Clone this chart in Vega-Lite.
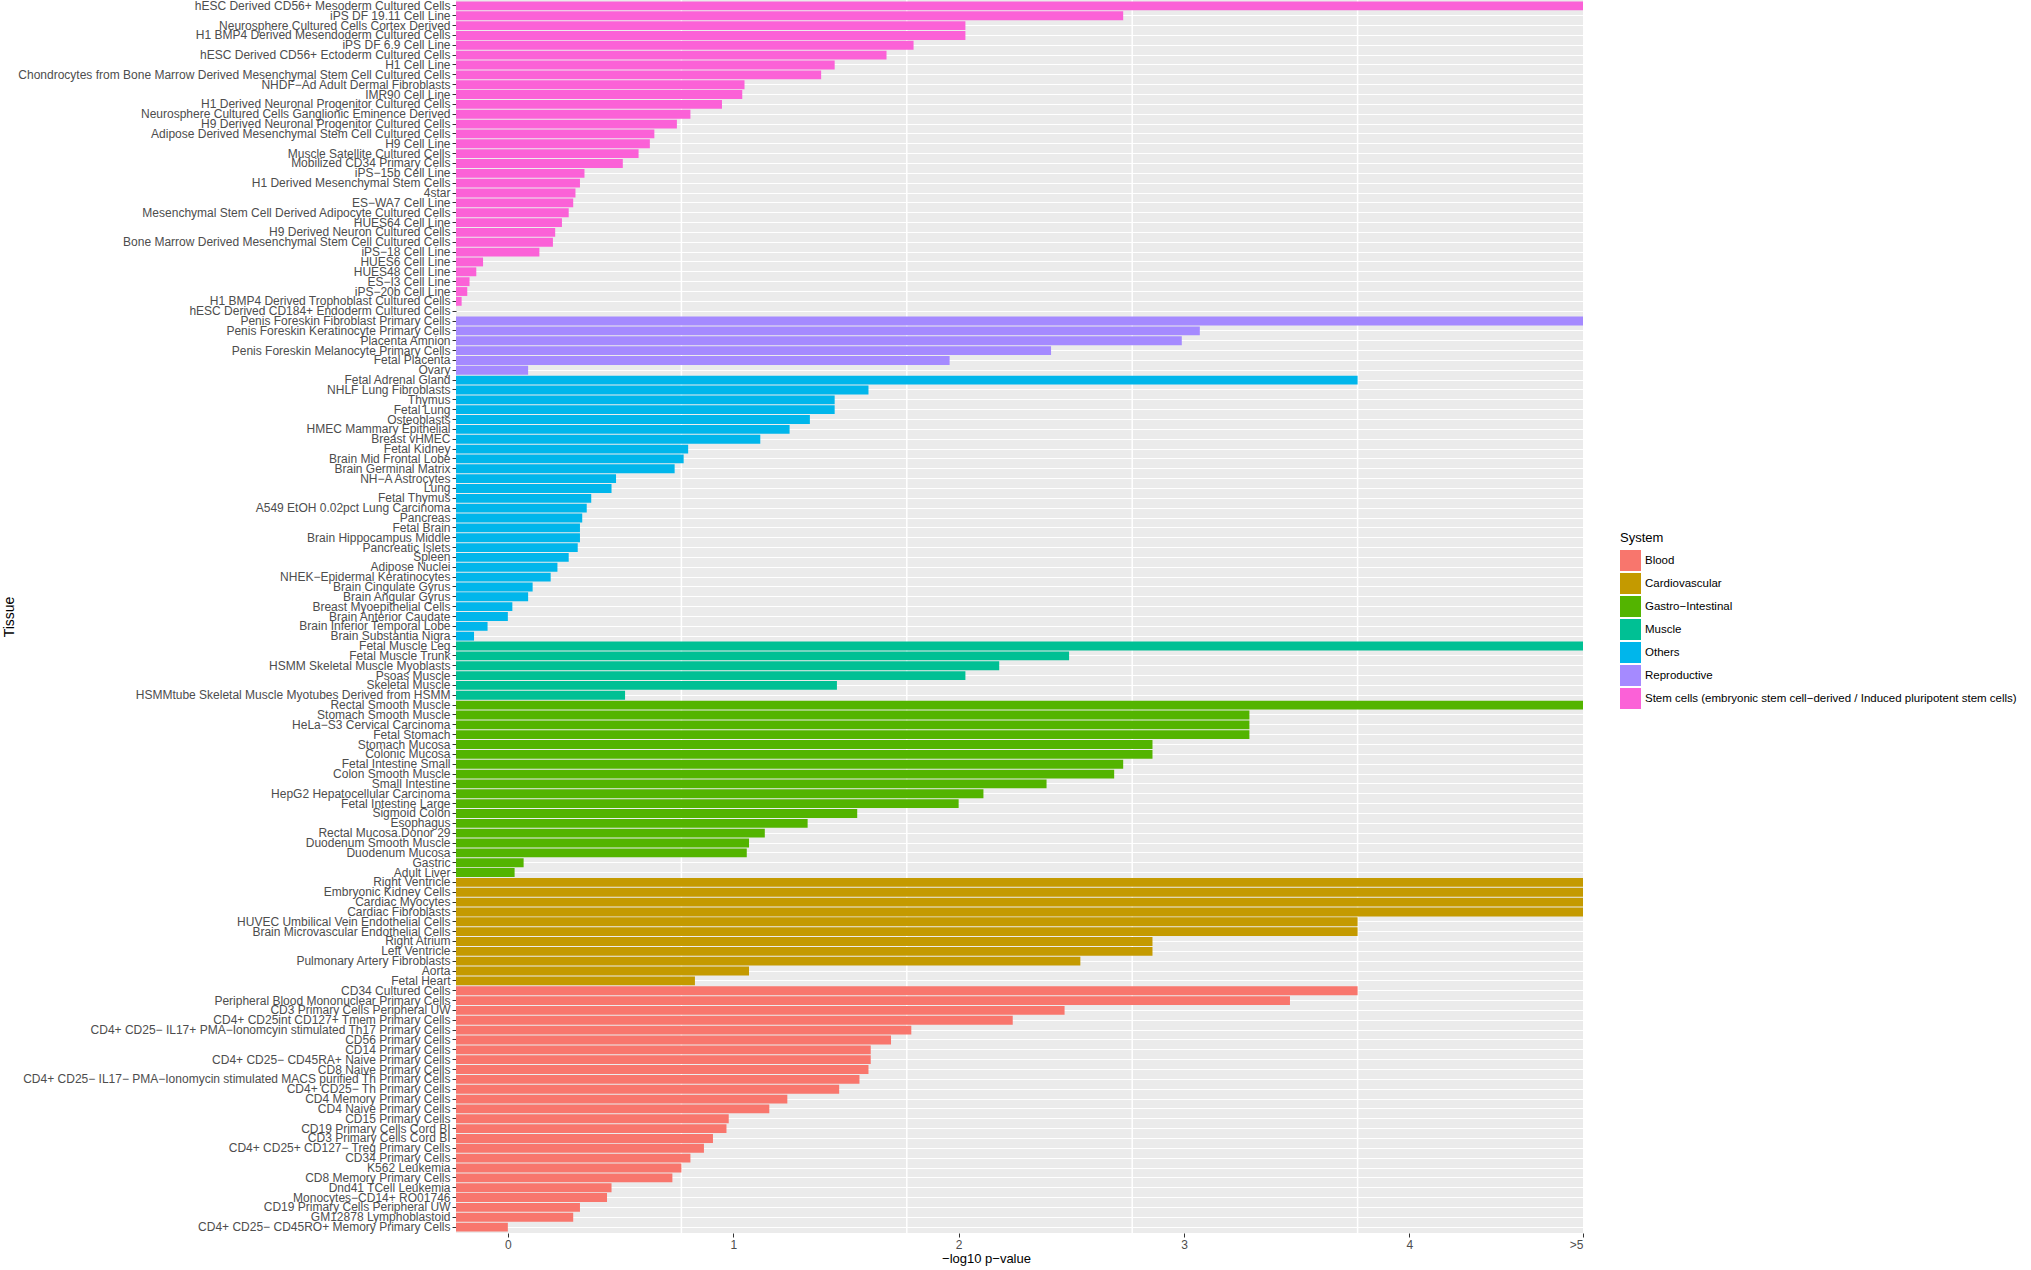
{
  "$schema": "https://vega.github.io/schema/vega-lite/v6.json",
  "width": 1127,
  "height": 1233,
  "autosize": {"type": "none"},
  "padding": {"left": 456, "top": 0, "right": 448, "bottom": 37},
  "background": "white",
  "config": {
    "view": {"fill": "#EBEBEB", "stroke": null},
    "font": "Liberation Sans"
  },
  "layer": [
    {
      "data": {"values": [{"g": 0.77}, {"g": 1.77}, {"g": 2.77}, {"g": 3.77}]},
      "mark": {"type": "rule", "color": "white", "strokeWidth": 1.5},
      "encoding": {
        "x": {"field": "g", "type": "quantitative", "scale": {"domain": [-0.23, 4.77], "nice": false, "zero": false}}
      }
    },
    {
      "data": {"values": [
        {"tissue": "hESC Derived CD56+ Mesoderm Cultured Cells", "system": "Stem cells (embryonic stem cell−derived / Induced pluripotent stem cells)", "value": 4.77},
        {"tissue": "iPS DF 19.11 Cell Line", "system": "Stem cells (embryonic stem cell−derived / Induced pluripotent stem cells)", "value": 2.73},
        {"tissue": "Neurosphere Cultured Cells Cortex Derived", "system": "Stem cells (embryonic stem cell−derived / Induced pluripotent stem cells)", "value": 2.03},
        {"tissue": "H1 BMP4 Derived Mesendoderm Cultured Cells", "system": "Stem cells (embryonic stem cell−derived / Induced pluripotent stem cells)", "value": 2.03},
        {"tissue": "iPS DF 6.9 Cell Line", "system": "Stem cells (embryonic stem cell−derived / Induced pluripotent stem cells)", "value": 1.80},
        {"tissue": "hESC Derived CD56+ Ectoderm Cultured Cells", "system": "Stem cells (embryonic stem cell−derived / Induced pluripotent stem cells)", "value": 1.68},
        {"tissue": "H1 Cell Line", "system": "Stem cells (embryonic stem cell−derived / Induced pluripotent stem cells)", "value": 1.45},
        {"tissue": "Chondrocytes from Bone Marrow Derived Mesenchymal Stem Cell Cultured Cells", "system": "Stem cells (embryonic stem cell−derived / Induced pluripotent stem cells)", "value": 1.39},
        {"tissue": "NHDF−Ad Adult Dermal Fibroblasts", "system": "Stem cells (embryonic stem cell−derived / Induced pluripotent stem cells)", "value": 1.05},
        {"tissue": "IMR90 Cell Line", "system": "Stem cells (embryonic stem cell−derived / Induced pluripotent stem cells)", "value": 1.04},
        {"tissue": "H1 Derived Neuronal Progenitor Cultured Cells", "system": "Stem cells (embryonic stem cell−derived / Induced pluripotent stem cells)", "value": 0.95},
        {"tissue": "Neurosphere Cultured Cells Ganglionic Eminence Derived", "system": "Stem cells (embryonic stem cell−derived / Induced pluripotent stem cells)", "value": 0.81},
        {"tissue": "H9 Derived Neuronal Progenitor Cultured Cells", "system": "Stem cells (embryonic stem cell−derived / Induced pluripotent stem cells)", "value": 0.75},
        {"tissue": "Adipose Derived Mesenchymal Stem Cell Cultured Cells", "system": "Stem cells (embryonic stem cell−derived / Induced pluripotent stem cells)", "value": 0.65},
        {"tissue": "H9 Cell Line", "system": "Stem cells (embryonic stem cell−derived / Induced pluripotent stem cells)", "value": 0.63},
        {"tissue": "Muscle Satellite Cultured Cells", "system": "Stem cells (embryonic stem cell−derived / Induced pluripotent stem cells)", "value": 0.58},
        {"tissue": "Mobilized CD34 Primary Cells", "system": "Stem cells (embryonic stem cell−derived / Induced pluripotent stem cells)", "value": 0.51},
        {"tissue": "iPS−15b Cell Line", "system": "Stem cells (embryonic stem cell−derived / Induced pluripotent stem cells)", "value": 0.34},
        {"tissue": "H1 Derived Mesenchymal Stem Cells", "system": "Stem cells (embryonic stem cell−derived / Induced pluripotent stem cells)", "value": 0.32},
        {"tissue": "4star", "system": "Stem cells (embryonic stem cell−derived / Induced pluripotent stem cells)", "value": 0.30},
        {"tissue": "ES−WA7 Cell Line", "system": "Stem cells (embryonic stem cell−derived / Induced pluripotent stem cells)", "value": 0.29},
        {"tissue": "Mesenchymal Stem Cell Derived Adipocyte Cultured Cells", "system": "Stem cells (embryonic stem cell−derived / Induced pluripotent stem cells)", "value": 0.27},
        {"tissue": "HUES64 Cell Line", "system": "Stem cells (embryonic stem cell−derived / Induced pluripotent stem cells)", "value": 0.24},
        {"tissue": "H9 Derived Neuron Cultured Cells", "system": "Stem cells (embryonic stem cell−derived / Induced pluripotent stem cells)", "value": 0.21},
        {"tissue": "Bone Marrow Derived Mesenchymal Stem Cell Cultured Cells", "system": "Stem cells (embryonic stem cell−derived / Induced pluripotent stem cells)", "value": 0.20},
        {"tissue": "iPS−18 Cell Line", "system": "Stem cells (embryonic stem cell−derived / Induced pluripotent stem cells)", "value": 0.14},
        {"tissue": "HUES6 Cell Line", "system": "Stem cells (embryonic stem cell−derived / Induced pluripotent stem cells)", "value": -0.11},
        {"tissue": "HUES48 Cell Line", "system": "Stem cells (embryonic stem cell−derived / Induced pluripotent stem cells)", "value": -0.14},
        {"tissue": "ES−I3 Cell Line", "system": "Stem cells (embryonic stem cell−derived / Induced pluripotent stem cells)", "value": -0.17},
        {"tissue": "iPS−20b Cell Line", "system": "Stem cells (embryonic stem cell−derived / Induced pluripotent stem cells)", "value": -0.18},
        {"tissue": "H1 BMP4 Derived Trophoblast Cultured Cells", "system": "Stem cells (embryonic stem cell−derived / Induced pluripotent stem cells)", "value": -0.205},
        {"tissue": "hESC Derived CD184+ Endoderm Cultured Cells", "system": "Stem cells (embryonic stem cell−derived / Induced pluripotent stem cells)", "value": -0.23},
        {"tissue": "Penis Foreskin Fibroblast Primary Cells", "system": "Reproductive", "value": 4.77},
        {"tissue": "Penis Foreskin Keratinocyte Primary Cells", "system": "Reproductive", "value": 3.07},
        {"tissue": "Placenta Amnion", "system": "Reproductive", "value": 2.99},
        {"tissue": "Penis Foreskin Melanocyte Primary Cells", "system": "Reproductive", "value": 2.41},
        {"tissue": "Fetal Placenta", "system": "Reproductive", "value": 1.96},
        {"tissue": "Ovary", "system": "Reproductive", "value": 0.09},
        {"tissue": "Fetal Adrenal Gland", "system": "Others", "value": 3.77},
        {"tissue": "NHLF Lung Fibroblasts", "system": "Others", "value": 1.60},
        {"tissue": "Thymus", "system": "Others", "value": 1.45},
        {"tissue": "Fetal Lung", "system": "Others", "value": 1.45},
        {"tissue": "Osteoblasts", "system": "Others", "value": 1.34},
        {"tissue": "HMEC Mammary Epithelial", "system": "Others", "value": 1.25},
        {"tissue": "Breast vHMEC", "system": "Others", "value": 1.12},
        {"tissue": "Fetal Kidney", "system": "Others", "value": 0.80},
        {"tissue": "Brain Mid Frontal Lobe", "system": "Others", "value": 0.78},
        {"tissue": "Brain Germinal Matrix", "system": "Others", "value": 0.74},
        {"tissue": "NH−A Astrocytes", "system": "Others", "value": 0.48},
        {"tissue": "Lung", "system": "Others", "value": 0.46},
        {"tissue": "Fetal Thymus", "system": "Others", "value": 0.37},
        {"tissue": "A549 EtOH 0.02pct Lung Carcinoma", "system": "Others", "value": 0.35},
        {"tissue": "Pancreas", "system": "Others", "value": 0.33},
        {"tissue": "Fetal Brain", "system": "Others", "value": 0.32},
        {"tissue": "Brain Hippocampus Middle", "system": "Others", "value": 0.32},
        {"tissue": "Pancreatic Islets", "system": "Others", "value": 0.31},
        {"tissue": "Spleen", "system": "Others", "value": 0.27},
        {"tissue": "Adipose Nuclei", "system": "Others", "value": 0.22},
        {"tissue": "NHEK−Epidermal Keratinocytes", "system": "Others", "value": 0.19},
        {"tissue": "Brain Cingulate Gyrus", "system": "Others", "value": 0.11},
        {"tissue": "Brain Angular Gyrus", "system": "Others", "value": 0.09},
        {"tissue": "Breast Myoepithelial Cells", "system": "Others", "value": 0.02},
        {"tissue": "Brain Anterior Caudate", "system": "Others", "value": 0.00},
        {"tissue": "Brain Inferior Temporal Lobe", "system": "Others", "value": -0.09},
        {"tissue": "Brain Substantia Nigra", "system": "Others", "value": -0.15},
        {"tissue": "Fetal Muscle Leg", "system": "Muscle", "value": 4.77},
        {"tissue": "Fetal Muscle Trunk", "system": "Muscle", "value": 2.49},
        {"tissue": "HSMM Skeletal Muscle Myoblasts", "system": "Muscle", "value": 2.18},
        {"tissue": "Psoas Muscle", "system": "Muscle", "value": 2.03},
        {"tissue": "Skeletal Muscle", "system": "Muscle", "value": 1.46},
        {"tissue": "HSMMtube Skeletal Muscle Myotubes Derived from HSMM", "system": "Muscle", "value": 0.52},
        {"tissue": "Rectal Smooth Muscle", "system": "Gastro−Intestinal", "value": 4.77},
        {"tissue": "Stomach Smooth Muscle", "system": "Gastro−Intestinal", "value": 3.29},
        {"tissue": "HeLa−S3 Cervical Carcinoma", "system": "Gastro−Intestinal", "value": 3.29},
        {"tissue": "Fetal Stomach", "system": "Gastro−Intestinal", "value": 3.29},
        {"tissue": "Stomach Mucosa", "system": "Gastro−Intestinal", "value": 2.86},
        {"tissue": "Colonic Mucosa", "system": "Gastro−Intestinal", "value": 2.86},
        {"tissue": "Fetal Intestine Small", "system": "Gastro−Intestinal", "value": 2.73},
        {"tissue": "Colon Smooth Muscle", "system": "Gastro−Intestinal", "value": 2.69},
        {"tissue": "Small Intestine", "system": "Gastro−Intestinal", "value": 2.39},
        {"tissue": "HepG2 Hepatocellular Carcinoma", "system": "Gastro−Intestinal", "value": 2.11},
        {"tissue": "Fetal Intestine Large", "system": "Gastro−Intestinal", "value": 2.00},
        {"tissue": "Sigmoid Colon", "system": "Gastro−Intestinal", "value": 1.55},
        {"tissue": "Esophagus", "system": "Gastro−Intestinal", "value": 1.33},
        {"tissue": "Rectal Mucosa.Donor 29", "system": "Gastro−Intestinal", "value": 1.14},
        {"tissue": "Duodenum Smooth Muscle", "system": "Gastro−Intestinal", "value": 1.07},
        {"tissue": "Duodenum Mucosa", "system": "Gastro−Intestinal", "value": 1.06},
        {"tissue": "Gastric", "system": "Gastro−Intestinal", "value": 0.07},
        {"tissue": "Adult Liver", "system": "Gastro−Intestinal", "value": 0.03},
        {"tissue": "Right Ventricle", "system": "Cardiovascular", "value": 4.77},
        {"tissue": "Embryonic Kidney Cells", "system": "Cardiovascular", "value": 4.77},
        {"tissue": "Cardiac Myocytes", "system": "Cardiovascular", "value": 4.77},
        {"tissue": "Cardiac Fibroblasts", "system": "Cardiovascular", "value": 4.77},
        {"tissue": "HUVEC Umbilical Vein Endothelial Cells", "system": "Cardiovascular", "value": 3.77},
        {"tissue": "Brain Microvascular Endothelial Cells", "system": "Cardiovascular", "value": 3.77},
        {"tissue": "Right Atrium", "system": "Cardiovascular", "value": 2.86},
        {"tissue": "Left Ventricle", "system": "Cardiovascular", "value": 2.86},
        {"tissue": "Pulmonary Artery Fibroblasts", "system": "Cardiovascular", "value": 2.54},
        {"tissue": "Aorta", "system": "Cardiovascular", "value": 1.07},
        {"tissue": "Fetal Heart", "system": "Cardiovascular", "value": 0.83},
        {"tissue": "CD34 Cultured Cells", "system": "Blood", "value": 3.77},
        {"tissue": "Peripheral Blood Mononuclear Primary Cells", "system": "Blood", "value": 3.47},
        {"tissue": "CD3 Primary Cells Peripheral UW", "system": "Blood", "value": 2.47},
        {"tissue": "CD4+ CD25int CD127+ Tmem Primary Cells", "system": "Blood", "value": 2.24},
        {"tissue": "CD4+ CD25− IL17+ PMA−Ionomcyin stimulated Th17 Primary Cells", "system": "Blood", "value": 1.79},
        {"tissue": "CD56 Primary Cells", "system": "Blood", "value": 1.70},
        {"tissue": "CD14 Primary Cells", "system": "Blood", "value": 1.61},
        {"tissue": "CD4+ CD25− CD45RA+ Naive Primary Cells", "system": "Blood", "value": 1.61},
        {"tissue": "CD8 Naive Primary Cells", "system": "Blood", "value": 1.60},
        {"tissue": "CD4+ CD25− IL17− PMA−Ionomycin stimulated MACS purified Th Primary Cells", "system": "Blood", "value": 1.56},
        {"tissue": "CD4+ CD25− Th Primary Cells", "system": "Blood", "value": 1.47},
        {"tissue": "CD4 Memory Primary Cells", "system": "Blood", "value": 1.24},
        {"tissue": "CD4 Naive Primary Cells", "system": "Blood", "value": 1.16},
        {"tissue": "CD15 Primary Cells", "system": "Blood", "value": 0.98},
        {"tissue": "CD19 Primary Cells Cord BI", "system": "Blood", "value": 0.97},
        {"tissue": "CD3 Primary Cells Cord BI", "system": "Blood", "value": 0.91},
        {"tissue": "CD4+ CD25+ CD127− Treg Primary Cells", "system": "Blood", "value": 0.87},
        {"tissue": "CD34 Primary Cells", "system": "Blood", "value": 0.81},
        {"tissue": "K562 Leukemia", "system": "Blood", "value": 0.77},
        {"tissue": "CD8 Memory Primary Cells", "system": "Blood", "value": 0.73},
        {"tissue": "Dnd41 TCell Leukemia", "system": "Blood", "value": 0.46},
        {"tissue": "Monocytes−CD14+ RO01746", "system": "Blood", "value": 0.44},
        {"tissue": "CD19 Primary Cells Peripheral UW", "system": "Blood", "value": 0.32},
        {"tissue": "GM12878 Lymphoblastoid", "system": "Blood", "value": 0.29},
        {"tissue": "CD4+ CD25− CD45RO+ Memory Primary Cells", "system": "Blood", "value": 0.00}
      ]},
      "mark": {"type": "bar"},
      "encoding": {
        "y": {
          "field": "tissue", "type": "nominal", "sort": null,
          "scale": {"paddingInner": 0.1, "paddingOuter": 0.15},
          "axis": {
            "title": "Tissue", "titleFontSize": 14, "titleFontWeight": "normal", "titleColor": "black",
            "titleX": -440, "titlePadding": 4,
            "labelFontSize": 12, "labelColor": "#4D4D4D", "labelLimit": 0, "labelOverlap": false,
            "labelPadding": 2, "tickSize": 4, "tickColor": "#333333", "domain": false,
            "grid": true, "gridColor": "white", "gridWidth": 1, "bandPosition": 0.5
          }
        },
        "x": {
          "field": "value", "type": "quantitative",
          "scale": {"domain": [-0.23, 4.77], "nice": false, "zero": false},
          "axis": {
            "title": "−log10 p−value", "titleFontSize": 13, "titleFontWeight": "normal", "titleColor": "black",
            "titleX": 530, "titlePadding": 2,
            "values": [0, 1, 2, 3, 4, 4.77],
            "labelExpr": "datum.value > 4.5 ? '>5' : format(datum.value, 'd')",
            "labelFontSize": 12, "labelColor": "#4D4D4D", "labelPadding": 2,
            "tickSize": 4, "tickColor": "#333333", "domain": false, "grid": false
          }
        },
        "x2": {"datum": -0.23},
        "color": {
          "field": "system", "type": "nominal",
          "scale": {
            "domain": ["Blood", "Cardiovascular", "Gastro−Intestinal", "Muscle", "Others", "Reproductive", "Stem cells (embryonic stem cell−derived / Induced pluripotent stem cells)"],
            "range": ["#F8766D", "#C49A00", "#53B400", "#00C094", "#00B6EB", "#A58AFF", "#FB61D7"]
          },
          "legend": {
            "title": "System", "orient": "none", "legendX": 1164, "legendY": 532,
            "titleFontSize": 13, "titleFontWeight": "normal", "titleColor": "black", "titlePadding": 5,
            "labelFontSize": 11.5, "labelColor": "black", "labelLimit": 0, "labelOffset": 4,
            "symbolType": "square", "symbolSize": 441, "symbolStrokeWidth": 0, "symbolOpacity": 1,
            "rowPadding": 2
          }
        }
      }
    }
  ]
}
